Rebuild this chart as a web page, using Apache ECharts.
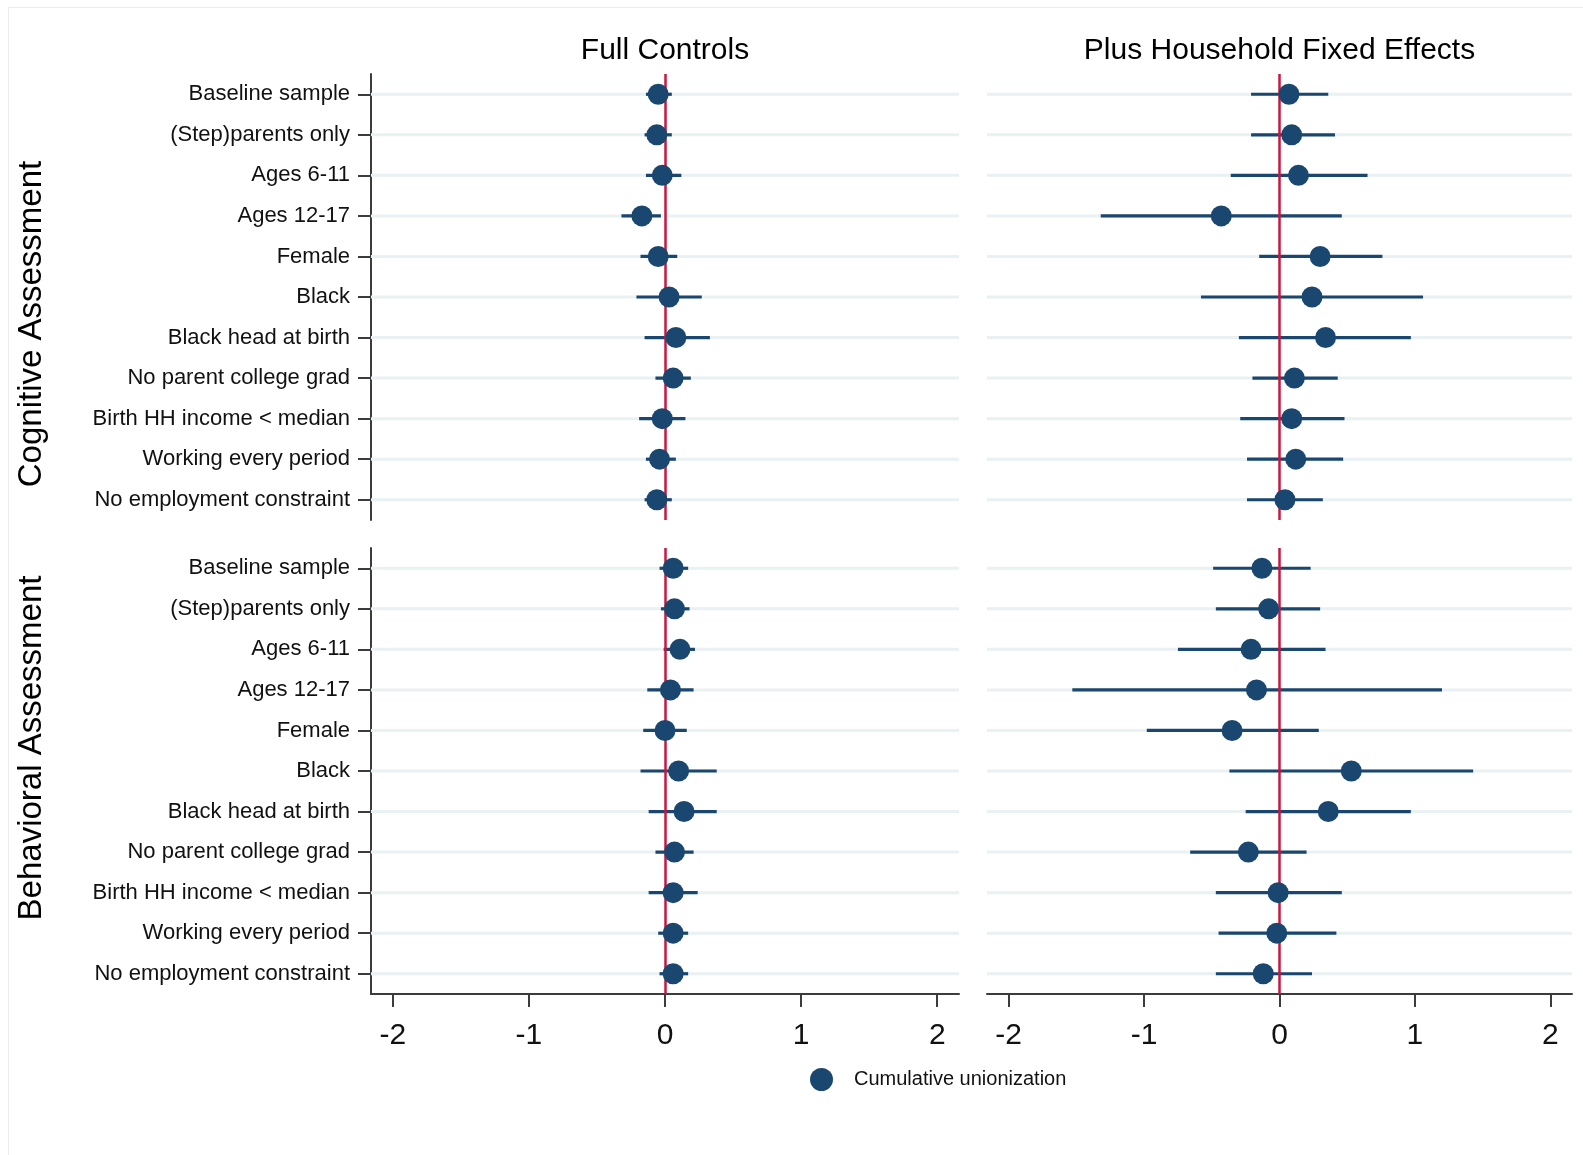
<!DOCTYPE html>
<html>
<head>
<meta charset="utf-8">
<title>Cumulative unionization coefficients</title>
<script src="https://cdn.jsdelivr.net/npm/echarts@6/dist/echarts.min.js"></script>
<style>
  html, body { margin: 0; padding: 0; background: #ffffff; }
  #chart { width: 1583px; height: 1155px; }
</style>
</head>
<body>
<div id="chart"></div>
<script>
// Subsamples (rows, top to bottom)
const categories = [
  'Baseline sample',
  '(Step)parents only',
  'Ages 6-11',
  'Ages 12-17',
  'Female',
  'Black',
  'Black head at birth',
  'No parent college grad',
  'Birth HH income < median',
  'Working every period',
  'No employment constraint'
];

const columnTitles = ['Full Controls', 'Plus Household Fixed Effects'];
const rowTitles = ['Cognitive Assessment', 'Behavioral Assessment'];
const legendName = 'Cumulative unionization';
const xTicks = [-2, -1, 0, 1, 2];

// Cognitive assessment, full controls
const cogFullEst = [-0.05, -0.06, -0.02, -0.17, -0.05, 0.03, 0.08, 0.06, -0.02, -0.04, -0.06];
const cogFullLo  = [-0.14, -0.15, -0.14, -0.32, -0.18, -0.21, -0.15, -0.07, -0.19, -0.14, -0.15];
const cogFullHi  = [0.05, 0.05, 0.12, -0.03, 0.09, 0.27, 0.33, 0.19, 0.15, 0.08, 0.05];

// Cognitive assessment, plus household fixed effects
const cogFeEst = [0.07, 0.09, 0.14, -0.43, 0.30, 0.24, 0.34, 0.11, 0.09, 0.12, 0.04];
const cogFeLo  = [-0.21, -0.21, -0.36, -1.32, -0.15, -0.58, -0.30, -0.20, -0.29, -0.24, -0.24];
const cogFeHi  = [0.36, 0.41, 0.65, 0.46, 0.76, 1.06, 0.97, 0.43, 0.48, 0.47, 0.32];

// Behavioral assessment, full controls
const behFullEst = [0.06, 0.07, 0.11, 0.04, 0.00, 0.10, 0.14, 0.07, 0.06, 0.06, 0.06];
const behFullLo  = [-0.04, -0.03, -0.01, -0.13, -0.16, -0.18, -0.12, -0.07, -0.12, -0.05, -0.04];
const behFullHi  = [0.17, 0.18, 0.22, 0.21, 0.16, 0.38, 0.38, 0.21, 0.24, 0.17, 0.17];

// Behavioral assessment, plus household fixed effects
const behFeEst = [-0.13, -0.08, -0.21, -0.17, -0.35, 0.53, 0.36, -0.23, -0.01, -0.02, -0.12];
const behFeLo  = [-0.49, -0.47, -0.75, -1.53, -0.98, -0.37, -0.25, -0.66, -0.47, -0.45, -0.47];
const behFeHi  = [0.23, 0.30, 0.34, 1.20, 0.29, 1.43, 0.97, 0.20, 0.46, 0.42, 0.24];

const panels = [
  { est: cogFullEst, lo: cogFullLo, hi: cogFullHi, row: 0, col: 0 },
  { est: cogFeEst,   lo: cogFeLo,   hi: cogFeHi,   row: 0, col: 1 },
  { est: behFullEst, lo: behFullLo, hi: behFullHi, row: 1, col: 0 },
  { est: behFeEst,   lo: behFeLo,   hi: behFeHi,   row: 1, col: 1 }
];

const FONT = '"Liberation Sans", Arial, Helvetica, sans-serif';
const NAVY = '#1a476f';
const RED = '#c8173f';
const GRID_LINE = '#e9f1f3';
const AXIS = '#3c3c3c';
const TEXT = '#111111';

const colLeft = [371, 987];
const colWidth = [588, 585];
const rowTop = [74, 548];
const rowHeight = 446;
const X_MIN = -2.16, X_MAX = 2.16;

const chart = echarts.init(document.getElementById('chart'), null, { renderer: 'canvas' });

const grids = [], xAxes = [], yAxes = [], series = [];

panels.forEach((p, i) => {
  const isLeft = p.col === 0;
  const isBottom = p.row === 1;
  grids.push({ left: colLeft[p.col], top: rowTop[p.row], width: colWidth[p.col], height: rowHeight, containLabel: false });

  xAxes.push({
    type: 'value', gridIndex: i, min: X_MIN, max: X_MAX,
    axisLine: { show: isBottom, onZero: false, lineStyle: { color: AXIS, width: 2 } },
    axisTick: { show: isBottom, length: 13, lineStyle: { color: AXIS, width: 2 }, customValues: xTicks },
    axisLabel: { show: isBottom, customValues: xTicks, fontSize: 30, fontFamily: FONT, color: TEXT, margin: 27 },
    splitLine: { show: false }
  });

  yAxes.push({
    type: 'category', gridIndex: i, data: categories, inverse: true,
    axisLine: { show: isLeft, onZero: false, lineStyle: { color: AXIS, width: 2 } },
    axisTick: { show: isLeft, alignWithLabel: true, length: 13, lineStyle: { color: AXIS, width: 2 } },
    axisLabel: { show: isLeft, fontSize: 22, fontFamily: FONT, color: TEXT, margin: 21,
                 verticalAlign: 'middle', padding: [6, 0, 0, 0] },
    splitLine: { show: false }
  });

  // light horizontal guide at each subsample, plus the zero reference line
  series.push({
    type: 'custom', xAxisIndex: i, yAxisIndex: i, silent: true, z: 1,
    data: categories.map((c, k) => [0, k]),
    encode: { x: 0, y: 1 },
    renderItem: function (params, api) {
      const y = api.coord([0, api.value(1)])[1];
      const cs = params.coordSys;
      return {
        type: 'line',
        shape: { x1: cs.x, y1: y, x2: cs.x + cs.width, y2: y },
        style: { stroke: GRID_LINE, lineWidth: 3 }
      };
    },
    markLine: {
      silent: true, symbol: ['none', 'none'], z: 5,
      label: { show: false },
      lineStyle: { color: RED, width: 2.5, type: 'solid' },
      emphasis: { disabled: true },
      data: [{ xAxis: 0 }]
    }
  });

  // confidence intervals
  series.push({
    type: 'custom', xAxisIndex: i, yAxisIndex: i, silent: true, z: 3,
    data: p.lo.map((lo, k) => [lo, p.hi[k], k]),
    encode: { x: [0, 1], y: 2 },
    renderItem: function (params, api) {
      const a = api.coord([api.value(0), api.value(2)]);
      const b = api.coord([api.value(1), api.value(2)]);
      return {
        type: 'line',
        shape: { x1: a[0], y1: a[1], x2: b[0], y2: b[1] },
        style: { stroke: NAVY, lineWidth: 3.2 }
      };
    }
  });

  // point estimates
  series.push({
    type: 'scatter', name: legendName, xAxisIndex: i, yAxisIndex: i, z: 6,
    symbol: 'circle', symbolSize: 21,
    itemStyle: { color: NAVY, opacity: 1 },
    data: p.est.map((v, k) => [v, k])
  });
});

const graphics = [
  // faint outer frame edges
  { type: 'polyline', silent: true, shape: { points: [[8.5, 1155], [8.5, 7.5], [1583, 7.5]] },
    style: { stroke: '#ececec', lineWidth: 1, fill: null } }
];

columnTitles.forEach((t, c) => {
  graphics.push({
    type: 'text', silent: true,
    x: colLeft[c] + colWidth[c] / 2, y: 51,
    style: { text: t, font: '30px ' + FONT, fill: '#000', align: 'center', verticalAlign: 'middle' }
  });
});

const rowTitleY = [324, 748];
rowTitles.forEach((t, r) => {
  graphics.push({
    type: 'text', silent: true,
    x: 32, y: rowTitleY[r], rotation: Math.PI / 2,
    style: { text: t, font: '33px ' + FONT, fill: '#000', align: 'center', verticalAlign: 'middle' }
  });
});

chart.setOption({
  backgroundColor: '#ffffff',
  animation: false,
  grid: grids,
  xAxis: xAxes,
  yAxis: yAxes,
  series: series,
  legend: {
    data: [legendName],
    left: 810, top: 1068, padding: 0,
    icon: 'circle', itemWidth: 23, itemHeight: 23,
    selectedMode: false,
    textStyle: { fontSize: 20, fontFamily: FONT, color: TEXT, padding: [0, 0, 0, 16] }
  },
  graphic: graphics
});
</script>
</body>
</html>
